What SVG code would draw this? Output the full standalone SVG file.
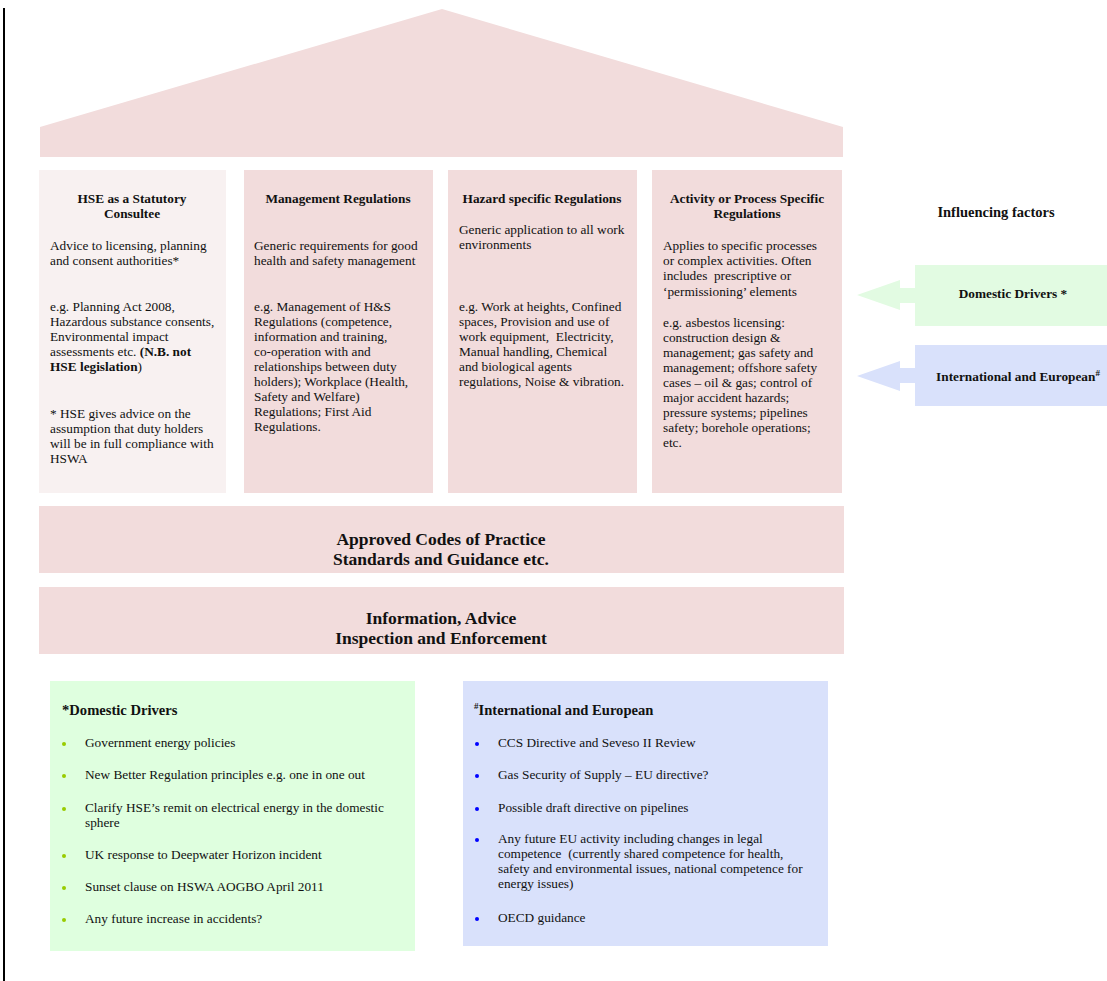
<svg xmlns="http://www.w3.org/2000/svg" width="1107" height="981" viewBox="0 0 1107 981">
<style>
text{font-family:"Liberation Serif","Times New Roman",serif;fill:#111}
.t{font-size:13.3px;font-weight:bold;text-anchor:middle}
.b{font-size:13.3px}
.band{font-size:17.5px;font-weight:bold;text-anchor:middle}
.l{font-size:13.3px}
.h{font-size:14.6px;font-weight:bold}
.pink{fill:#f2dcdc}
</style>
<rect width="1107" height="981" fill="#fff"/>
<line x1="4" y1="8" x2="4" y2="981" stroke="#000" stroke-width="2"/>
<g id="roof"><polygon class="pink" points="40,127 442,9 843,127 843,157 40,157"/></g>

<g id="col-hse">
<rect x="39" y="170" width="187" height="323" fill="#f8f1f1"/>
<text class="t" x="132" y="203">HSE as a Statutory</text>
<text class="t" x="132" y="218">Consultee</text>
<text class="b" x="50" y="250">Advice to licensing, planning</text>
<text class="b" x="50" y="265">and consent authorities*</text>
<text class="b" x="50" y="311">e.g. Planning Act 2008,</text>
<text class="b" x="50" y="326">Hazardous substance consents,</text>
<text class="b" x="50" y="341">Environmental impact</text>
<text class="b" x="50" y="356">assessments etc. <tspan font-weight="bold">(N.B. not</tspan></text>
<text class="b" x="50" y="371"><tspan font-weight="bold">HSE legislation</tspan>)</text>
<text class="b" x="50" y="418">* HSE gives advice on the</text>
<text class="b" x="50" y="433">assumption that duty holders</text>
<text class="b" x="50" y="448">will be in full compliance with</text>
<text class="b" x="50" y="463">HSWA</text>
</g>

<g id="col-management">
<rect class="pink" x="244" y="170" width="189" height="323"/>
<text class="t" x="338" y="203">Management Regulations</text>
<text class="b" x="254" y="250">Generic requirements for good</text>
<text class="b" x="254" y="265">health and safety management</text>
<text class="b" x="254" y="311">e.g. Management of H&amp;S</text>
<text class="b" x="254" y="326">Regulations (competence,</text>
<text class="b" x="254" y="341">information and training,</text>
<text class="b" x="254" y="356">co-operation with and</text>
<text class="b" x="254" y="371">relationships between duty</text>
<text class="b" x="254" y="386">holders); Workplace (Health,</text>
<text class="b" x="254" y="401">Safety and Welfare)</text>
<text class="b" x="254" y="416">Regulations; First Aid</text>
<text class="b" x="254" y="431">Regulations.</text>
</g>

<g id="col-hazard">
<rect class="pink" x="448" y="170" width="189" height="323"/>
<text class="t" x="542" y="203">Hazard specific Regulations</text>
<text class="b" x="459" y="234">Generic application to all work</text>
<text class="b" x="459" y="249">environments</text>
<text class="b" x="459" y="311">e.g. Work at heights, Confined</text>
<text class="b" x="459" y="326">spaces, Provision and use of</text>
<text class="b" x="459" y="341" xml:space="preserve">work equipment,  Electricity,</text>
<text class="b" x="459" y="356">Manual handling, Chemical</text>
<text class="b" x="459" y="371">and biological agents</text>
<text class="b" x="459" y="386">regulations, Noise &amp; vibration.</text>
</g>

<g id="col-activity">
<rect class="pink" x="652" y="170" width="190" height="323"/>
<text class="t" x="747" y="203">Activity or Process Specific</text>
<text class="t" x="747" y="218">Regulations</text>
<text class="b" x="663" y="250">Applies to specific processes</text>
<text class="b" x="663" y="265">or complex activities. Often</text>
<text class="b" x="663" y="280" xml:space="preserve">includes  prescriptive or</text>
<text class="b" x="663" y="296">‘permissioning’ elements</text>
<text class="b" x="663" y="327">e.g. asbestos licensing:</text>
<text class="b" x="663" y="342">construction design &amp;</text>
<text class="b" x="663" y="357">management; gas safety and</text>
<text class="b" x="663" y="372">management; offshore safety</text>
<text class="b" x="663" y="387">cases – oil &amp; gas; control of</text>
<text class="b" x="663" y="402">major accident hazards;</text>
<text class="b" x="663" y="417">pressure systems; pipelines</text>
<text class="b" x="663" y="432">safety; borehole operations;</text>
<text class="b" x="663" y="447">etc.</text>
</g>

<g id="band-acop">
<rect class="pink" x="39" y="506" width="805" height="67"/>
<text class="band" x="441" y="545">Approved Codes of Practice</text>
<text class="band" x="441" y="565">Standards and Guidance etc.</text>
</g>
<g id="band-info">
<rect class="pink" x="39" y="587" width="805" height="67"/>
<text class="band" x="441" y="624">Information, Advice</text>
<text class="band" x="441" y="644">Inspection and Enforcement</text>
</g>

<g id="influencing-title">
<text class="t" x="996" y="217" style="font-size:14.5px">Influencing factors</text>
</g>

<g id="connectors">
<polygon fill="#e2fbe2" points="857,295 900,280 900,288 915,288 915,303 900,303 900,310"/>
<polygon fill="#d9e1fb" points="857,376 900,361 900,368 915,368 915,383 900,383 900,391"/>
</g>

<g id="domestic-drivers">
<rect x="915" y="265" width="192" height="61" fill="#e2fbe2"/>
<text class="t" x="1013" y="298">Domestic Drivers *</text>
</g>
<g id="international-european">
<rect x="915" y="345" width="192" height="61" fill="#d9e1fb"/>
<text class="t" x="1018" y="381">International and European<tspan font-size="9px" dy="-5">#</tspan></text>
</g>

<g id="domestic-list">
<rect x="50" y="681" width="365" height="270" fill="#dfffdf"/>
<text class="h" x="62" y="715">*Domestic Drivers</text>
<g fill="#99cc00">
<circle cx="64" cy="744" r="2"/><circle cx="64" cy="776" r="2"/><circle cx="64" cy="809" r="2"/>
<circle cx="64" cy="856" r="2"/><circle cx="64" cy="888" r="2"/><circle cx="64" cy="920" r="2"/>
</g>
<text class="l" x="85" y="747">Government energy policies</text>
<text class="l" x="85" y="779">New Better Regulation principles e.g. one in one out</text>
<text class="l" x="85" y="812">Clarify HSE’s remit on electrical energy in the domestic</text>
<text class="l" x="85" y="827">sphere</text>
<text class="l" x="85" y="859">UK response to Deepwater Horizon incident</text>
<text class="l" x="85" y="891">Sunset clause on HSWA AOGBO April 2011</text>
<text class="l" x="85" y="923">Any future increase in accidents?</text>
</g>

<g id="international-list">
<rect x="463" y="681" width="365" height="265" fill="#d9e1fb"/>
<text class="h" x="474" y="715"><tspan font-size="9px" dy="-6">#</tspan><tspan dy="6">International and European</tspan></text>
<g fill="#0000ff">
<circle cx="477" cy="744" r="2"/><circle cx="477" cy="776" r="2"/><circle cx="477" cy="809" r="2"/>
<circle cx="477" cy="840" r="2"/><circle cx="477" cy="919" r="2"/>
</g>
<text class="l" x="498" y="747">CCS Directive and Seveso II Review</text>
<text class="l" x="498" y="779">Gas Security of Supply – EU directive?</text>
<text class="l" x="498" y="812">Possible draft directive on pipelines</text>
<text class="l" x="498" y="843">Any future EU activity including changes in legal</text>
<text class="l" x="498" y="858" xml:space="preserve">competence  (currently shared competence for health,</text>
<text class="l" x="498" y="873">safety and environmental issues, national competence for</text>
<text class="l" x="498" y="888">energy issues)</text>
<text class="l" x="498" y="922">OECD guidance</text>
</g>
</svg>
